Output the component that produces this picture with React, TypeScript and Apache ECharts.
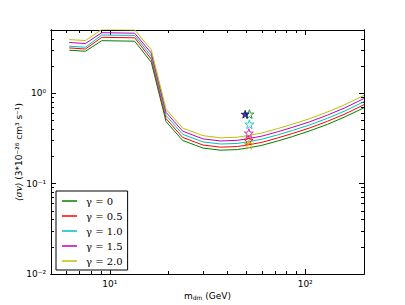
import React, { useEffect, useRef } from "react";
import * as echarts from "echarts";

const masses = [6.2, 7.5, 9.1, 13.4, 16.3, 19.4, 23.6, 30, 37, 45, 51, 60, 72, 86, 105, 130, 160, 200];
const gamma00 = [2.99, 2.91, 3.81, 3.76, 2.2, 0.485, 0.3, 0.247, 0.234, 0.238, 0.248, 0.265, 0.295, 0.331, 0.382, 0.452, 0.548, 0.69];
const gamma05 = [3.17, 3.08, 4.15, 4.1, 2.38, 0.524, 0.324, 0.267, 0.253, 0.257, 0.268, 0.286, 0.319, 0.358, 0.411, 0.489, 0.589, 0.746];
const gamma10 = [3.31, 3.22, 4.4, 4.35, 2.57, 0.567, 0.351, 0.289, 0.274, 0.278, 0.29, 0.31, 0.345, 0.387, 0.444, 0.528, 0.637, 0.807];
const gamma15 = [3.64, 3.54, 4.67, 4.61, 2.78, 0.614, 0.38, 0.312, 0.296, 0.301, 0.314, 0.335, 0.373, 0.419, 0.481, 0.572, 0.69, 0.873];
const gamma20 = [3.92, 3.82, 5.07, 5.02, 3.02, 0.665, 0.411, 0.339, 0.321, 0.326, 0.34, 0.363, 0.404, 0.454, 0.521, 0.62, 0.748, 0.946];

const seriesNames = ["γ = 0", "γ = 0.5", "γ = 1.0", "γ = 1.5", "γ = 2.0"];
const seriesColors = ["#008000", "#ff0000", "#00bfbf", "#bf00bf", "#bfbf00"];
const seriesValues = [gamma00, gamma05, gamma10, gamma15, gamma20];

const starMasses = [51.8, 51.3, 51.8, 51.5, 51.5];
const starValues = [0.586, 0.3, 0.454, 0.361, 0.27];
const blueStarMass = 49.3;
const blueStarValue = 0.586;

const xMajorTicks = [10, 100];
const xMinorTicks = [6, 7, 8, 9, 20, 30, 40, 50, 60, 70, 80, 90];
const yMajorTicks = [0.01, 0.1, 1];
const yMinorTicks = [0.02, 0.03, 0.04, 0.05, 0.06, 0.07, 0.08, 0.09, 0.2, 0.3, 0.4, 0.5, 0.6, 0.7, 0.8, 0.9, 2, 3, 4];

const SUP: Record<string, string> = { "-": "⁻", "0": "⁰", "1": "¹", "2": "²", "3": "³", "4": "⁴", "5": "⁵", "6": "⁶", "7": "⁷", "8": "⁸", "9": "⁹" };
const powLabel = (v: number) => {
  const e = String(Math.round(Math.log10(v)));
  return "10" + e.split("").map((c) => SUP[c] || c).join("");
};

const STAR = "path://M0,-10L2.35,-3.24L9.51,-3.09L3.8,1.24L5.88,8.09L0,4L-5.88,8.09L-3.8,1.24L-9.51,-3.09L-2.35,-3.24Z";

const FONT = "DejaVu Sans";

function makeAxis(kind: "x" | "y", position: string, ticks: number[], len: number, labels: boolean, extra: any = {}) {
  const range = kind === "x" ? { min: 5, max: 200 } : { min: 0.01, max: 5 };
  return {
    type: "log",
    logBase: 10,
    ...range,
    position,
    axisLine: { show: true, onZero: false, lineStyle: { color: "#000", width: 1 } },
    axisTick: { show: true, inside: true, length: len, customValues: ticks, lineStyle: { color: "#000", width: 1 } },
    axisLabel: labels
      ? { show: true, customValues: ticks, formatter: (v: number) => powLabel(v), fontFamily: FONT, fontSize: 9, color: "#000", margin: 5 }
      : { show: false },
    splitLine: { show: false },
    minorTick: { show: false },
    minorSplitLine: { show: false },
    ...extra,
  };
}

export default function App() {
  const ref = useRef<HTMLDivElement>(null);
  useEffect(() => {
    if (!ref.current) return;
    const chart = echarts.init(ref.current, undefined, { renderer: "svg" });
    const lineSeries = seriesNames.map((name, i) => ({
      name,
      type: "line",
      xAxisIndex: 0,
      yAxisIndex: 0,
      data: masses.map((m, j) => [m, seriesValues[i][j]]),
      symbol: "none",
      lineStyle: { color: seriesColors[i], width: 1 },
      itemStyle: { color: seriesColors[i] },
      clip: true,
      z: 2 + i,
    }));
    const starSeries = {
      type: "scatter",
      name: "stars",
      xAxisIndex: 0,
      yAxisIndex: 0,
      symbol: STAR,
      symbolSize: 9,
      data: starMasses.map((m, i) => ({
        value: [m, starValues[i]],
        itemStyle: { color: "rgba(255,255,255,0)", borderColor: seriesColors[i], borderWidth: 1 },
      })),
      z: 10,
    };
    const blueSeries = {
      type: "scatter",
      name: "blue",
      xAxisIndex: 0,
      yAxisIndex: 0,
      symbol: STAR,
      symbolSize: 8,
      data: [[blueStarMass, blueStarValue]],
      itemStyle: { color: "#0000ff", borderColor: "#000", borderWidth: 0.8 },
      z: 11,
    };
    chart.setOption({
      animation: false,
      backgroundColor: "#fff",
      grid: { left: 51, right: 41, top: 30, bottom: 31, containLabel: false },
      xAxis: [
        makeAxis("x", "bottom", xMajorTicks, 5, true, {
          name: "m{sub|dm} (GeV)",
          nameLocation: "middle",
          nameGap: 17,
          nameMoveOverlap: false,
          nameTextStyle: {
            fontFamily: FONT,
            fontSize: 9,
            color: "#000",
            rich: { sub: { fontFamily: FONT, fontSize: 6, color: "#000", verticalAlign: "bottom", lineHeight: 8, padding: [4, 0, 0, 0] } },
          },
        }),
        makeAxis("x", "bottom", xMinorTicks, 3, false),
        makeAxis("x", "top", xMajorTicks, 5, false),
        makeAxis("x", "top", xMinorTicks, 3, false),
      ],
      yAxis: [
        makeAxis("y", "left", yMajorTicks, 5, true, {
          name: "{it|⟨σv⟩} (3*10⁻²⁶ cm³ s⁻¹)",
          nameLocation: "middle",
          nameGap: 28,
          nameMoveOverlap: false,
          nameTextStyle: {
            fontFamily: FONT,
            fontSize: 9,
            color: "#000",
            rich: { it: { fontFamily: "DejaVu Serif", fontStyle: "italic", fontSize: 9, color: "#000" } },
          },
        }),
        makeAxis("y", "left", yMinorTicks, 3, false),
        makeAxis("y", "right", yMajorTicks, 5, false),
        makeAxis("y", "right", yMinorTicks, 3, false),
      ],
      legend: {
        show: true,
        data: seriesNames,
        orient: "vertical",
        left: 56,
        top: 191,
        icon: "rect",
        itemWidth: 15,
        itemHeight: 1.5,
        itemGap: 3,
        itemStyle: { borderWidth: 0 },
        padding: [4, 5, 3, 6],
        borderColor: "#000",
        borderWidth: 1,
        backgroundColor: "#fff",
        textStyle: { fontFamily: "DejaVu Serif", fontSize: 10, color: "#000", lineHeight: 12, padding: [0, 0, 0, 4] },
      },
      series: [...lineSeries, starSeries, blueSeries],
    });
    return () => chart.dispose();
  }, []);
  return <div ref={ref} style={{ position: "fixed", left: 0, top: 0, width: 405, height: 305 }} />;
}
